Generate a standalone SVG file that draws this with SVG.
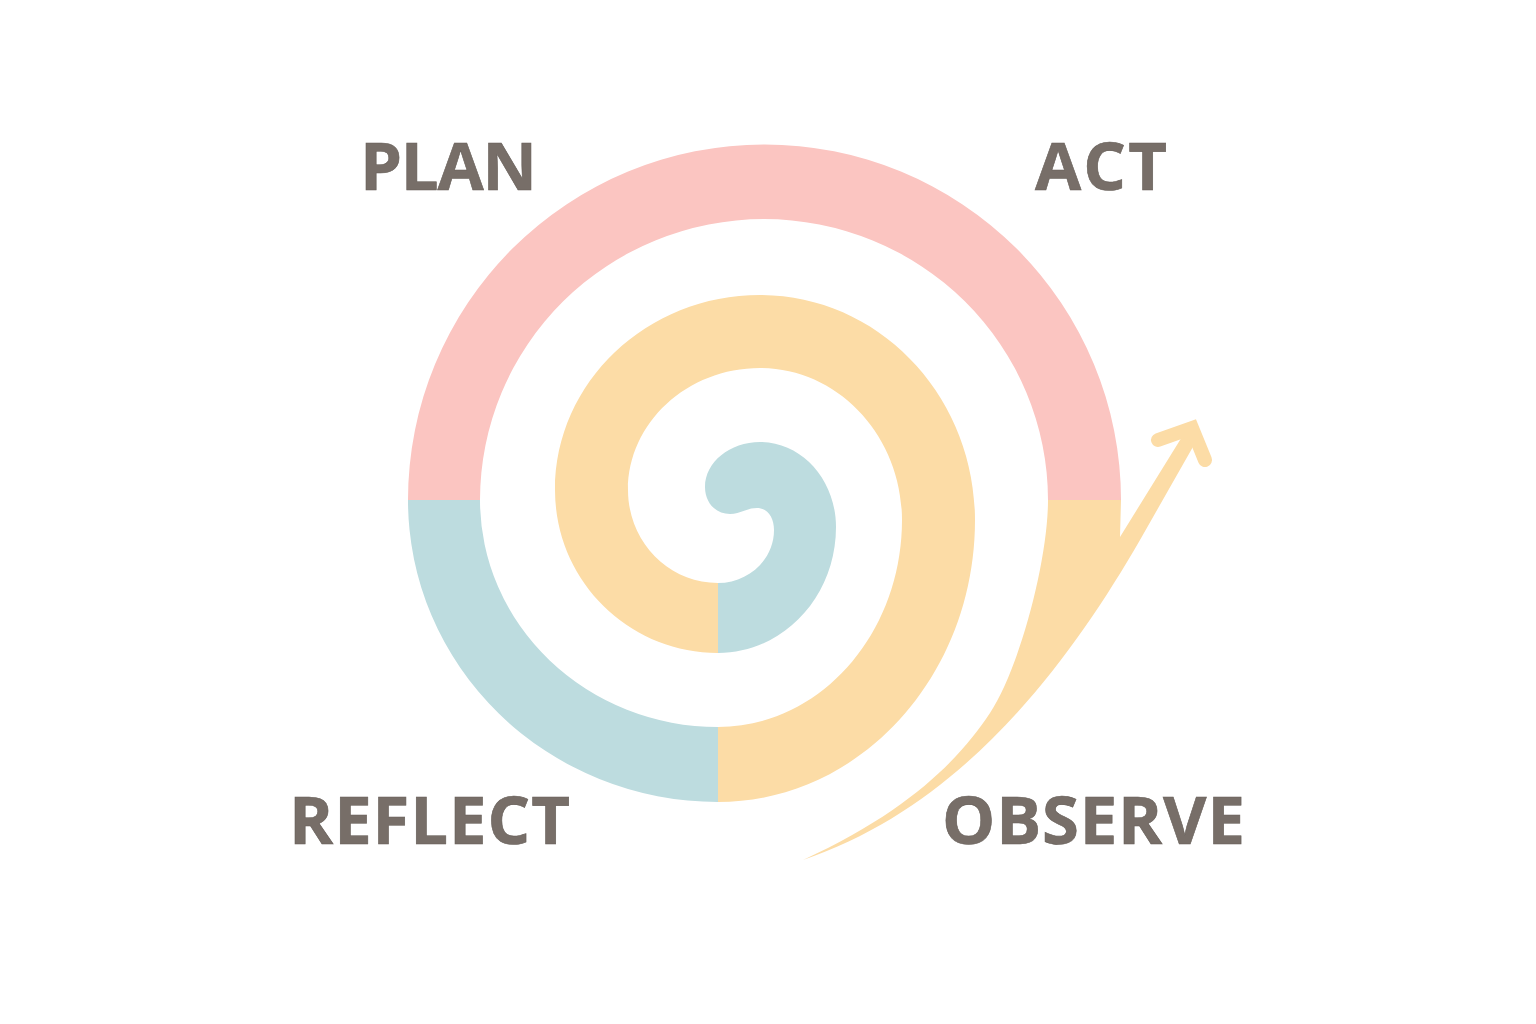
<svg xmlns="http://www.w3.org/2000/svg" width="1536" height="1024" viewBox="0 0 1536 1024">
  <style>
    .pink { fill: #fbc5c1; }
    .orange { fill: #fcdca6; }
    .blue { fill: #bddcdf; }
    .label { font-family: "Open Sans", "Liberation Sans", sans-serif; font-weight: 700; font-size: 67px; fill: #776e68; stroke: #665e58; stroke-width: 0.6; }
  </style>
  <rect width="1536" height="1024" fill="#ffffff"/>
  <g id="spiral">
    <path id="plan-arc" class="pink" d="M408,500 A356,355 0 0 1 1121,500 L1048,500 A284,281 0 0 0 480,500 Z"/>
    <path id="reflect-arc" class="blue" d="M408,500 A310,302 0 0 0 718,802 L718,727 A238,227 0 0 1 480,500 Z"/>
    <path id="act-ring" class="orange" d="M718,802 C860,802 975,676 975,520 C975,396 879,295 760,295 C647,295 555,382 555,490 C555,580 628,653 718,653 L718,583 C668,583 628,541 628,490 C628,423 687,368 760,368 C838,368 902,436 902,520 C902,634 820,727 718,727 Z"/>
    <path id="core" class="blue" d="M718,653 C783,653 836,597 836,527 C836,480 802,442 760,442 C730,442 705,462 705,487 C705,503 716,514 730,514 C741,514 746,508 757,508 C768,508 774,518 774,530 C774,560 748,583 718,583 Z"/>
  </g>
  <g id="connectors">
    <path id="observe-tail" class="orange" d="M1048,500 L1121,500 L1120,537 L1185,432 L1198,438 L1140,540 C1070,661 965,805 803,860 C914,809 962,755 990,713 C1020,667 1048,560 1048,500 Z"/>
    <path id="arrowhead" d="M1158,440 L1192,428 L1205,460" fill="none" stroke="#fcdca6" stroke-width="14" stroke-linecap="round" stroke-linejoin="miter"/>
  </g>
  <g id="label-plan"><text class="label" x="360" y="190" textLength="177">PLAN</text></g>
  <g id="label-act"><text class="label" x="1035" y="190" textLength="132">ACT</text></g>
  <g id="label-reflect"><text class="label" x="289" y="844" textLength="281">REFLECT</text></g>
  <g id="label-observe"><text class="label" x="942" y="844" textLength="303">OBSERVE</text></g>
</svg>
